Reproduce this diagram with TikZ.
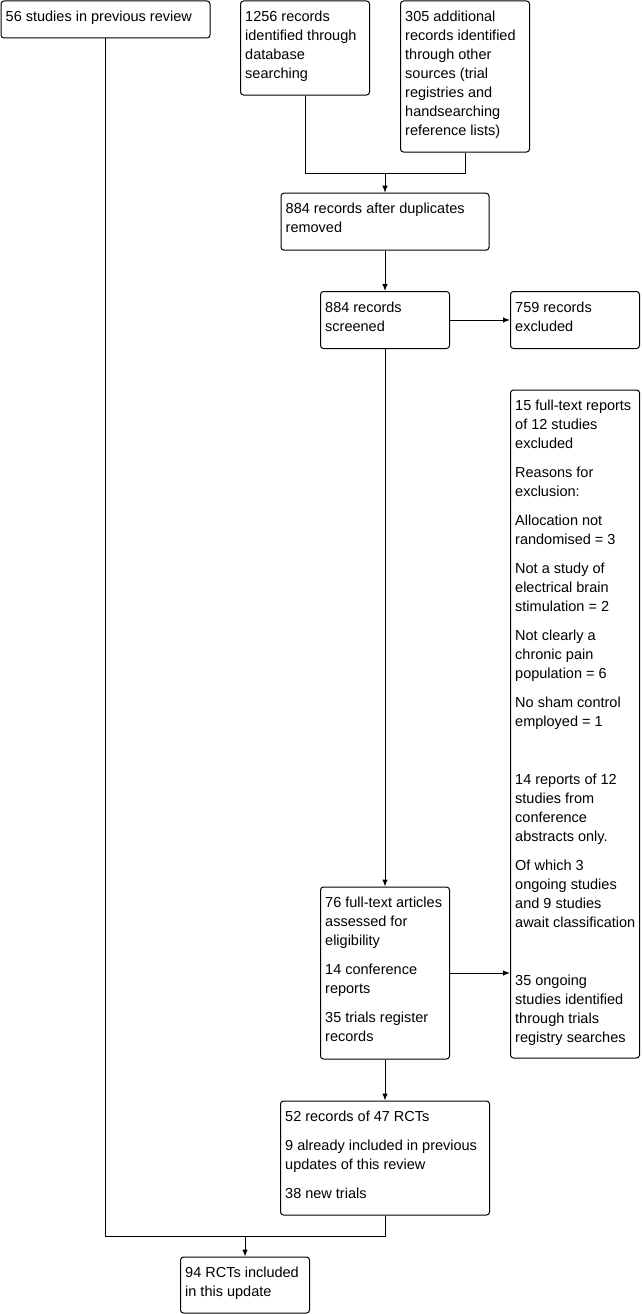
\documentclass[tikz,border=0pt]{standalone}
\usepackage{fontspec}
\setmainfont{Liberation Sans}
\usetikzlibrary{arrows.meta}
\newcommand{\bt}[1]{\parbox[t]{300pt}{\fontsize{14.5}{19}\selectfont\raggedright #1}}
\tikzset{
  box/.style={draw=black, line width=1pt, rounded corners=3pt, fill=white, inner sep=0pt},
  txt/.style={anchor=base west, inner sep=0pt, text=black},
  link/.style={draw=black, line width=1pt},
  arr/.style={link, -{Latex[length=7pt,width=5.5pt]}}
}
\begin{document}
\begin{tikzpicture}[x=1pt,y=-1pt]
\useasboundingbox (0,0) rectangle (642,1314);
% boxes
\node[box, minimum width=209pt, minimum height=37pt] (A) at (105.5,19.5) {};
\node[box, minimum width=129pt, minimum height=94pt] (B) at (305,48) {};
\node[box, minimum width=129pt, minimum height=151pt] (C) at (465,76.5) {};
\node[box, minimum width=208pt, minimum height=57pt] (D) at (385,221.7) {};
\node[box, minimum width=129pt, minimum height=57pt] (E) at (385,320) {};
\node[box, minimum width=129pt, minimum height=57pt] (F) at (575,320) {};
\node[box, minimum width=129pt, minimum height=668pt] (G) at (575,724) {};
\node[box, minimum width=129pt, minimum height=172pt] (H) at (385,973) {};
\node[box, minimum width=209pt, minimum height=114pt] (I) at (385,1158) {};
\node[box, minimum width=129pt, minimum height=56pt] (J) at (245,1285) {};
% texts
\node[txt] (At) at ([shift={(5,21)}]A.north west) {\bt{56 studies in previous review}};
\node[txt] (Bt) at ([shift={(5,21)}]B.north west) {\bt{1256 records\\identified through\\database\\searching}};
\node[txt] (Ct) at ([shift={(5,21)}]C.north west) {\bt{305 additional\\records identified\\through other\\sources (trial\\registries and\\handsearching\\reference lists)}};
\node[txt] (Dt) at ([shift={(5,21)}]D.north west) {\bt{884 records after duplicates\\removed}};
\node[txt] (Et) at ([shift={(5,21)}]E.north west) {\bt{884 records\\screened}};
\node[txt] (Ft) at ([shift={(5,21)}]F.north west) {\bt{759 records\\excluded}};
\node[txt] (Gt) at ([shift={(5,21)}]G.north west) {\bt{15 full-text reports\\of 12 studies\\excluded\\[10pt]Reasons for\\exclusion:\\[10pt]Allocation not\\randomised = 3\\[10pt]Not a study of\\electrical brain\\stimulation = 2\\[10pt]Not clearly a\\chronic pain\\population = 6\\[10pt]No sham control\\employed = 1\\[39pt]14 reports of 12\\studies from\\conference\\abstracts only.\\[10pt]Of which 3\\ongoing studies\\and 9 studies\\await classification\\[39pt]35 ongoing\\studies identified\\through trials\\registry searches}};
\node[txt] (Ht) at ([shift={(5,21)}]H.north west) {\bt{76 full-text articles\\assessed for\\eligibility\\[10pt]14 conference\\reports\\[10pt]35 trials register\\records}};
\node[txt] (It) at ([shift={(5,21)}]I.north west) {\bt{52 records of 47 RCTs\\[10pt]9 already included in previous\\updates of this review\\[10pt]38 new trials}};
\node[txt] (Jt) at ([shift={(5,21)}]J.north west) {\bt{94 RCTs included\\in this update}};
% connectors
\coordinate (j1) at (385,173);
\draw[link] (B.south) -- (B.south |- j1) -- (C.south |- j1) -- (C.south);
\draw[arr] (j1) -- (D.north);
\draw[arr] (D.south) -- (E.north);
\draw[arr] (E.east) -- (F.west);
\draw[arr] (E.south) -- (H.north);
\draw[arr] (H.east) -- (H.east -| G.west);
\draw[arr] (H.south) -- (I.north);
\coordinate (j2) at (245,1236);
\draw[link] (A.south) -- (A.south |- j2) -- (I.south |- j2) -- (I.south);
\draw[arr] (j2) -- (J.north);
\end{tikzpicture}
\end{document}
